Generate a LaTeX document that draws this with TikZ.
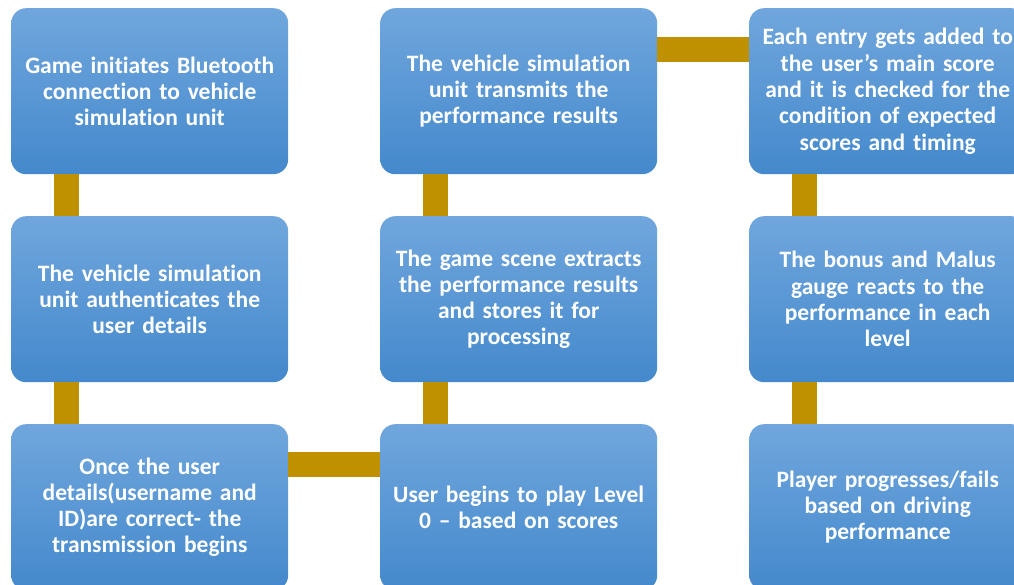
\documentclass[tikz,border=0pt]{standalone}
\usepackage{fontspec}
\setmainfont[Ligatures={NoCommon}]{Carlito}
\definecolor{boxtop}{RGB}{112,166,221}
\definecolor{boxbot}{RGB}{68,137,204}
\definecolor{conncol}{RGB}{191,144,0}
\begin{document}
\begin{tikzpicture}[x=1pt,y=1pt,
  stepbox/.style={anchor=north west, minimum width=277pt, minimum height=166pt,
    rounded corners=15pt, inner sep=0pt, top color=boxtop, bottom color=boxbot,
    draw=none, text=white, align=center, text width=268pt,
    font=\fontsize{23.5pt}{26.3pt}\selectfont\bfseries},
  conn/.style={draw=conncol, line width=25pt}]
\useasboundingbox (0,0) rectangle (1014,-585);
\node[stepbox] (a1) at (11,-8)   {Game initiates Bluetooth\\connection to vehicle\\simulation unit};
\node[stepbox] (a2) at (11,-216) {The vehicle simulation\\unit authenticates the\\user details};
\node[stepbox] (a3) at (11,-424) {Once the user\\details(username and\\ID)are correct- the\\transmission begins};
\node[stepbox] (b1) at (380,-8)   {The vehicle simulation\\unit transmits the\\performance results};
\node[stepbox] (b2) at (380,-216) {The game scene extracts\\the performance results\\and stores it for\\processing};
\node[stepbox] (b3) at (380,-424) {User begins to play Level\\0 – based on scores};
\node[stepbox] (c1) at (749,-8)   {Each entry gets added to\\the user’s main score\\and it is checked for the\\condition of expected\\scores and timing};
\node[stepbox] (c2) at (749,-216) {The bonus and Malus\\gauge reacts to the\\performance in each\\level};
\node[stepbox] (c3) at (749,-424) {Player progresses/fails\\based on driving\\performance};
\draw[conn] ([xshift=55.5pt]a1.south west) -- ([xshift=55.5pt]a2.north west);
\draw[conn] ([xshift=55.5pt]a2.south west) -- ([xshift=55.5pt]a3.north west);
\draw[conn] ([yshift=-40.5pt]a3.north east) -- ([yshift=-40.5pt]b3.north west);
\draw[conn] ([xshift=55.5pt]b3.north west) -- ([xshift=55.5pt]b2.south west);
\draw[conn] ([xshift=55.5pt]b2.north west) -- ([xshift=55.5pt]b1.south west);
\draw[conn] ([yshift=-41.5pt]b1.north east) -- ([yshift=-41.5pt]c1.north west);
\draw[conn] ([xshift=55.5pt]c1.south west) -- ([xshift=55.5pt]c2.north west);
\draw[conn] ([xshift=55.5pt]c2.south west) -- ([xshift=55.5pt]c3.north west);
\end{tikzpicture}
\end{document}
